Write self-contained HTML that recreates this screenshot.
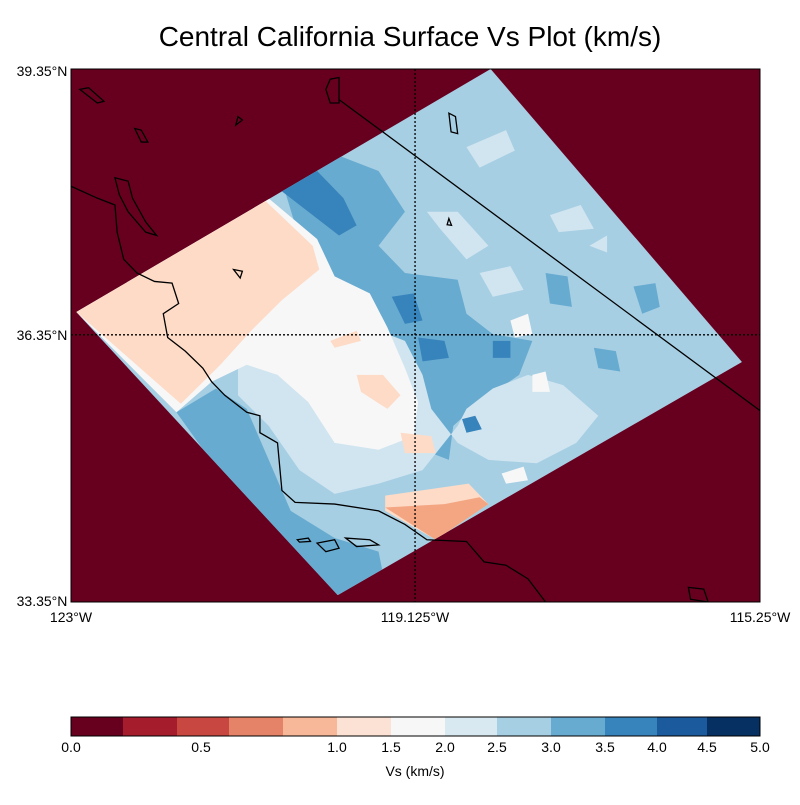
<!DOCTYPE html>
<html><head><style>
body{margin:0;background:#fff;}
svg text{font-family:"Liberation Sans",sans-serif;}
</style></head><body>
<svg width="800" height="800" viewBox="0 0 800 800" xmlns="http://www.w3.org/2000/svg">
<text x="410" y="46" font-size="28" text-anchor="middle">Central California Surface Vs Plot (km/s)</text>
<defs><clipPath id="r"><polygon points="955,0 1527,862 607,1548 12,715"/></clipPath>
<clipPath id="pa"><rect x="0" y="0" width="1568" height="1568"/></clipPath></defs>
<rect x="71" y="69" width="689" height="533" fill="#67001f"/>
<g transform="translate(71,69) scale(0.4394,0.3399)">
<g clip-path="url(#r)">
<rect x="0" y="0" width="1568" height="1568" fill="#a7cfe4"/>
<path d="M480,330 L600,250 L700,300 L760,420 L700,520 L760,600 L880,620 L900,720 L960,780 L1050,800 L1020,900 L930,980 L870,1050 L860,1150 L760,1100 L700,900 L620,700 L520,500 Z" fill="#68abd0"/>
<path d="M240,1010 L330,940 L400,1000 L450,1150 L500,1300 L600,1380 L700,1420 L720,1548 L600,1560 L400,1300 Z" fill="#68abd0"/>
<path d="M1280,640 L1330,630 L1340,700 L1300,720 Z M1190,820 L1240,830 L1250,890 L1200,880 Z M1080,600 L1130,610 L1140,700 L1090,690 Z" fill="#68abd0"/>
<path d="M380,870 L500,780 L620,730 L760,800 L800,900 L820,1000 L880,1100 L950,1150 L1060,1160 L1150,1100 L1200,1020 L1120,930 L1040,900 L960,940 L900,1000 L880,1050 L800,1180 L700,1220 L600,1250 L520,1180 L450,1050 L380,960 Z" fill="#d1e5f0"/>
<path d="M900,230 L990,180 L1010,240 L930,290 Z M1090,430 L1160,400 L1190,470 L1110,480 Z M810,420 L880,420 L950,520 L900,560 L840,470 Z M930,600 L1000,580 L1030,650 L960,670 Z M1180,520 L1220,490 L1220,540 Z" fill="#d1e5f0"/>
<path d="M440,370 L560,500 L600,610 L680,660 L720,760 L760,880 L790,980 L780,1080 L700,1120 L600,1100 L540,980 L470,900 L400,870 L320,920 L240,1010 L12,715 Z" fill="#f7f7f7"/>
<path d="M1000,740 L1040,720 L1050,780 L1010,790 Z M1050,900 L1080,890 L1090,950 L1050,950 Z M980,1190 L1030,1170 L1040,1210 L990,1220 Z" fill="#f7f7f7"/>
<path d="M12,715 L440,385 L550,520 L565,590 L480,680 L410,770 L340,870 L250,985 Z" fill="#fddbc7"/>
<path d="M650,900 L710,900 L750,960 L720,1000 L660,950 Z M750,1070 L820,1080 L830,1130 L760,1130 Z M590,800 L650,770 L660,800 L600,820 Z" fill="#fddbc7"/>
<path d="M470,350 L560,300 L620,380 L650,460 L610,490 L560,440 L500,380 Z M730,670 L780,660 L800,740 L760,750 Z M790,790 L850,800 L860,850 L800,860 Z M960,800 L1000,800 L1000,850 L960,850 Z M890,1030 L920,1020 L935,1060 L900,1070 Z" fill="#3783bb"/>
<path d="M715,1255 L905,1220 L950,1280 L830,1385 L715,1300 Z" fill="#fddbc7"/>
<path d="M715,1290 L850,1280 L930,1260 L950,1280 L830,1385 Z" fill="#f4a582"/>
</g>
<g fill="none" stroke="#000" stroke-width="1.3" clip-path="url(#pa)">
<path vector-effect="non-scaling-stroke" d="M0,345 L60,380 L100,400 L105,480 L120,560 L150,600 L190,625 L230,630 L245,690 L210,720 L220,790 L260,830 L300,880 L320,920 L350,960 L400,1010 L430,1020 L430,1070 L470,1100 L480,1240 L510,1275 L600,1280 L700,1300 L760,1340 L810,1385 L900,1390 L940,1450 L990,1460 L1040,1500 L1080,1568"/>
<path vector-effect="non-scaling-stroke" d="M100,320 L130,330 L140,380 L170,450 L195,490 L170,480 L130,420 L110,370 Z"/>
<path vector-effect="non-scaling-stroke" d="M590,30 L610,25 L610,100 L590,100 L580,60 Z"/>
<path vector-effect="non-scaling-stroke" d="M20,60 L40,55 L75,95 L60,100 Z M145,175 L160,180 L175,215 L160,215 Z M380,140 L390,150 L375,165 Z M860,130 L875,140 L880,190 L865,185 Z M515,1385 L540,1380 L545,1390 L520,1392 Z M560,1395 L600,1385 L610,1410 L580,1420 Z M625,1380 L680,1385 L700,1400 L650,1405 Z M370,590 L390,595 L385,615 Z M860,440 L866,460 L856,458 Z M1405,1525 L1440,1530 L1450,1568 L1410,1560 Z"/>
<path vector-effect="non-scaling-stroke" d="M610,90 L1568,1005"/>
<path vector-effect="non-scaling-stroke" stroke-dasharray="2,2" d="M783,0 L783,1568 M0,782 L1568,782"/>
</g>
</g>
<rect x="71" y="69" width="689" height="533" fill="none" stroke="#000" stroke-width="1"/>
<g font-size="14">
<text x="42" y="76" text-anchor="middle">39.35°N</text>
<text x="42" y="340" text-anchor="middle">36.35°N</text>
<text x="42" y="606" text-anchor="middle">33.35°N</text>
<text x="71" y="622" text-anchor="middle">123°W</text>
<text x="415" y="622" text-anchor="middle">119.125°W</text>
<text x="760" y="622" text-anchor="middle">115.25°W</text>
</g>
<g>
<rect x="71" y="717" width="53" height="19" fill="#67001f"/>
<rect x="123" y="717" width="55" height="19" fill="#a51c2d"/>
<rect x="177" y="717" width="53" height="19" fill="#c94741"/>
<rect x="229" y="717" width="55" height="19" fill="#e58368"/>
<rect x="283" y="717" width="55" height="19" fill="#f6b899"/>
<rect x="337" y="717" width="55" height="19" fill="#fbe2d4"/>
<rect x="391" y="717" width="55" height="19" fill="#f7f7f7"/>
<rect x="445" y="717" width="53" height="19" fill="#d9e9f1"/>
<rect x="497" y="717" width="55" height="19" fill="#a7cfe4"/>
<rect x="551" y="717" width="55" height="19" fill="#68abd0"/>
<rect x="605" y="717" width="53" height="19" fill="#3783bb"/>
<rect x="657" y="717" width="51" height="19" fill="#1b5a9c"/>
<rect x="707" y="717" width="53" height="19" fill="#053061"/>
<rect x="71" y="717" width="689" height="19" fill="none" stroke="#000"/>
</g>
<g font-size="14" text-anchor="middle">
<text x="71" y="752">0.0</text><text x="201" y="752">0.5</text><text x="337" y="752">1.0</text>
<text x="391" y="752">1.5</text><text x="445" y="752">2.0</text><text x="497" y="752">2.5</text>
<text x="551" y="752">3.0</text><text x="605" y="752">3.5</text><text x="657" y="752">4.0</text>
<text x="707" y="752">4.5</text><text x="760" y="752">5.0</text>
<text x="415" y="776">Vs (km/s)</text>
</g>
</svg>
</body></html>
